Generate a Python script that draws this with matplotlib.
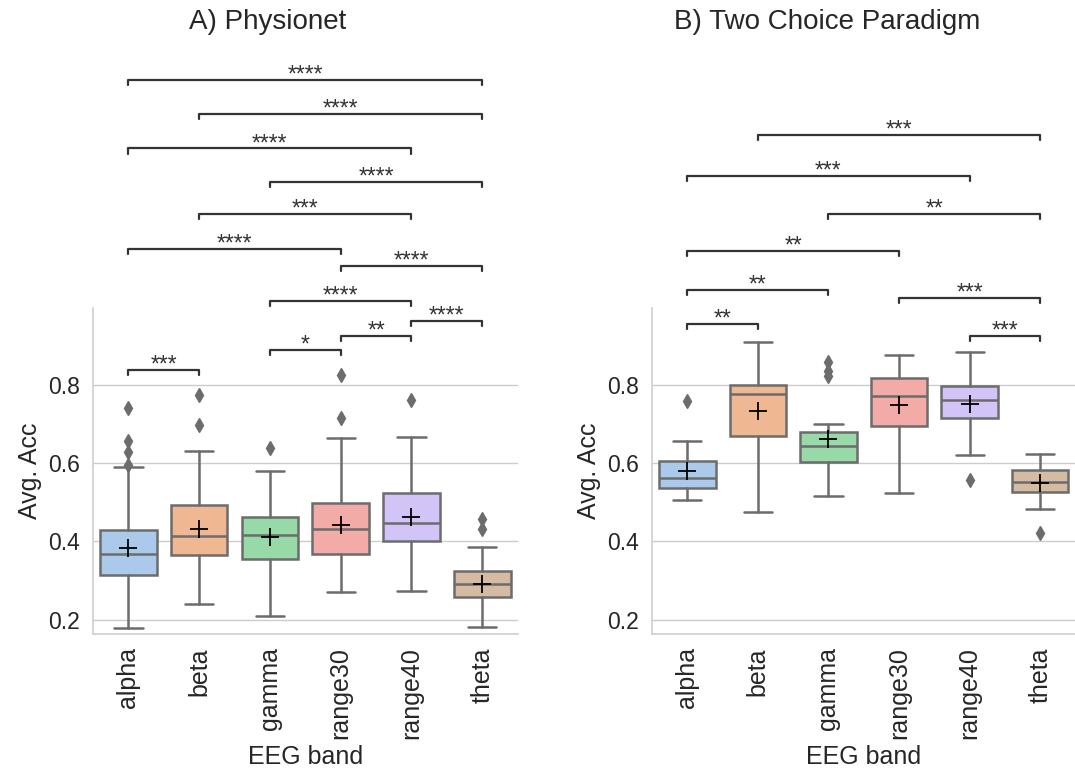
import matplotlib
matplotlib.use('Agg')
import matplotlib.pyplot as plt
import seaborn as sns

bands = ['alpha', 'beta', 'gamma', 'range30', 'range40', 'theta']

# A) Physionet box stats
phys_whislo = [0.179, 0.241, 0.208, 0.271, 0.273, 0.181]
phys_q1 = [0.315, 0.366, 0.354, 0.367, 0.402, 0.258]
phys_med = [0.367, 0.413, 0.416, 0.432, 0.447, 0.290]
phys_q3 = [0.428, 0.493, 0.462, 0.497, 0.524, 0.323]
phys_whishi = [0.590, 0.630, 0.580, 0.665, 0.667, 0.385]
phys_mean = [0.383, 0.431, 0.412, 0.443, 0.462, 0.292]
phys_fliers = [[0.740, 0.656, 0.629, 0.596], [0.775, 0.697], [0.639],
               [0.826, 0.715], [0.762], [0.458, 0.432]]

# B) Two Choice Paradigm box stats
two_whislo = [0.505, 0.476, 0.515, 0.523, 0.621, 0.482]
two_q1 = [0.536, 0.670, 0.603, 0.694, 0.715, 0.526]
two_med = [0.561, 0.777, 0.644, 0.772, 0.762, 0.552]
two_q3 = [0.605, 0.800, 0.679, 0.817, 0.797, 0.583]
two_whishi = [0.656, 0.911, 0.701, 0.878, 0.885, 0.623]
two_mean = [0.580, 0.733, 0.663, 0.750, 0.752, 0.550]
two_fliers = [[0.758], [], [0.858, 0.837, 0.824], [], [0.558], [0.421]]

# significance pairs (index a, index b, label)
phys_pairs = [(0, 5, '****'), (1, 5, '****'), (0, 4, '****'), (2, 5, '****'),
              (1, 4, '***'), (0, 3, '****'), (3, 5, '****'), (2, 4, '****'),
              (4, 5, '****'), (3, 4, '**'), (2, 3, '*'), (0, 1, '***')]
phys_levels = [1.580, 1.493, 1.405, 1.320, 1.237, 1.149, 1.104, 1.016,
               0.963, 0.926, 0.890, 0.839]
two_pairs = [(1, 5, '***'), (0, 4, '***'), (2, 5, '**'), (0, 3, '**'),
             (0, 2, '**'), (3, 5, '***'), (0, 1, '**'), (4, 5, '***')]
two_levels = [1.439, 1.335, 1.237, 1.142, 1.044, 1.022, 0.955, 0.926]

sns.set_theme(style='whitegrid')
plt.rcParams['font.family'] = ['Liberation Sans', 'DejaVu Sans']

colors = [sns.desaturate(c, 0.75) for c in sns.color_palette('pastel', 6)]
gray = '#6c6c6c'


def draw_panel(ax, whislo, q1, med, q3, whishi, mean, fliers, pairs, levels):
    stats = []
    for i in range(len(bands)):
        stats.append(dict(whislo=whislo[i], q1=q1[i], med=med[i], q3=q3[i],
                          whishi=whishi[i], mean=mean[i], fliers=fliers[i],
                          label=bands[i]))
    bp = ax.bxp(stats, positions=range(len(bands)), widths=0.8,
                capwidths=0.4, patch_artist=True, showmeans=True,
                boxprops=dict(edgecolor=gray, linewidth=1.8),
                whiskerprops=dict(color=gray, linewidth=1.8),
                capprops=dict(color=gray, linewidth=1.8),
                medianprops=dict(color=gray, linewidth=1.8),
                meanprops=dict(marker='+', markeredgecolor='black',
                               markersize=13, markeredgewidth=1.3),
                flierprops=dict(marker='d', markerfacecolor=gray,
                                markeredgecolor=gray, markersize=7))
    for patch, c in zip(bp['boxes'], colors):
        patch.set_facecolor(c)
    for (a, b, lab), y in zip(pairs, levels):
        h = 0.013
        ax.plot([a, a, b, b], [y - h, y, y, y - h], color='0.2',
                linewidth=1.6, clip_on=False)
        ax.text((a + b) / 2, y - 0.004, lab, ha='center', va='baseline',
                fontsize=16.5, color='0.2', clip_on=False)
    ax.set_xlim(-0.5, 5.5)
    ax.set_ylim(0.163, 0.997)
    ax.set_yticks([0.2, 0.4, 0.6, 0.8])
    ax.set_xticks(range(len(bands)))
    ax.set_xticklabels(bands, rotation=90, fontsize=18)
    ax.tick_params(axis='y', labelsize=16.5)
    ax.set_xlabel('EEG band', fontsize=18, labelpad=4)
    ax.set_ylabel('Avg. Acc', fontsize=18)
    ax.grid(axis='x', visible=False)
    sns.despine(ax=ax)
    for s in ['left', 'bottom']:
        ax.spines[s].set_color('#d0d0d0')


fig = plt.figure(figsize=(10.75, 7.69), dpi=100)
ax1 = fig.add_axes([0.0865, 0.1755, 0.395, 0.424])
ax2 = fig.add_axes([0.6065, 0.1755, 0.394, 0.424])

draw_panel(ax1, phys_whislo, phys_q1, phys_med, phys_q3, phys_whishi,
           phys_mean, phys_fliers, phys_pairs, phys_levels)
draw_panel(ax2, two_whislo, two_q1, two_med, two_q3, two_whishi,
           two_mean, two_fliers, two_pairs, two_levels)

fig.text(268 / 1075, 1 - 22 / 769, 'A) Physionet', ha='center', va='center',
         fontsize=20, color='0.15')
fig.text(827 / 1075, 1 - 22 / 769, 'B) Two Choice Paradigm', ha='center',
         va='center', fontsize=20, color='0.15')

fig.savefig('out.png', dpi=100)
